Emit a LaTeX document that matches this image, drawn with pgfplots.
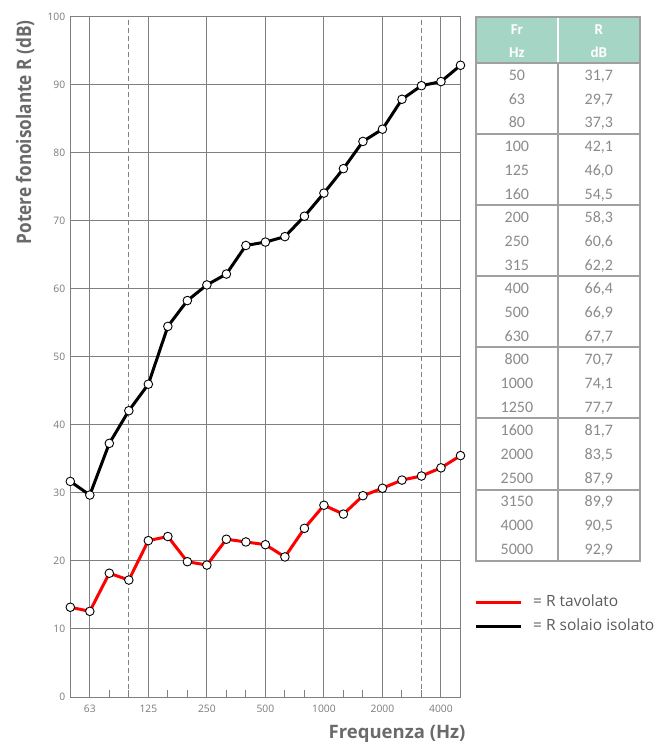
\documentclass[border=0pt]{standalone}
\usepackage{graphicx}
\usepackage{pgfplots}
\pgfplotsset{compat=1.18}
\usepackage{fontspec}
\setmainfont{Open Sans}
\newfontfamily\carlito{Carlito}
\definecolor{gridgray}{HTML}{808080}
\definecolor{labgray}{HTML}{6A6A6A}
\definecolor{tickgray}{HTML}{7A7A7A}
\definecolor{headteal}{HTML}{A5D6C5}
\definecolor{tabline}{HTML}{A0A0A0}
\definecolor{tabtext}{HTML}{8A8A8A}
\definecolor{legtext}{HTML}{5A5A5A}

\pgfplotstableread{
idx tavolato solaio
0  13.2 31.7
1  12.6 29.7
2  18.2 37.3
3  17.2 42.1
4  23.0 46.0
5  23.6 54.5
6  19.9 58.3
7  19.4 60.6
8  23.2 62.2
9  22.8 66.4
10 22.4 66.9
11 20.6 67.7
12 24.8 70.7
13 28.2 74.1
14 26.9 77.7
15 29.6 81.7
16 30.7 83.5
17 31.9 87.9
18 32.5 89.9
19 33.7 90.5
20 35.5 92.9
}\datatab

\begin{document}
\begin{tikzpicture}[x=1pt,y=1pt]
\useasboundingbox (0,0) rectangle (663,742);
\begin{axis}[
  at={(70.3pt,45pt)}, anchor=south west,
  width=390.2pt, height=680pt, scale only axis,
  xmin=0, xmax=20, ymin=0, ymax=100,
  clip=false,
  tick pos=left, tick align=inside,
  xtick={0,...,20},
  xticklabels={,63,,,125,,,250,,,500,,,1000,,,2000,,,4000,},
  extra x ticks={1,4,7,10,13,16,19},
  extra x tick labels={},
  extra x tick style={xmajorgrids=true},
  ytick={0,10,...,100},
  ymajorgrids=true,
  major grid style={draw=gridgray, line width=1pt},
  axis line style={draw=gridgray, line width=1pt},
  x tick style={draw=gridgray, line width=1pt},
  major tick length=6.7pt,
  y tick style={draw=none},
  /pgf/number format/assume math mode=true,
  ticklabel style={font=\fontsize{10.3}{12}\selectfont, text=tickgray},
  xticklabel style={anchor=base, yshift=-16pt},
  yticklabel style={anchor=east, xshift=-1.5pt},
]
\addplot[gridgray, line width=1pt, dash pattern=on 5pt off 3pt, forget plot] coordinates {(3,0) (3,100)};
\addplot[gridgray, line width=1pt, dash pattern=on 5pt off 3pt, forget plot] coordinates {(18,0) (18,100)};
\addplot[red, line width=3pt, mark=*, mark size=4.3pt, mark options={fill=white, draw=black, line width=0.9pt}] table[x=idx, y=tavolato] {\datatab};
\addplot[black, line width=3pt, mark=*, mark size=4.3pt, mark options={fill=white, draw=black, line width=0.9pt}] table[x=idx, y=solaio] {\datatab};
\end{axis}

% axis titles
\node[rotate=90, anchor=base, inner sep=0, text=labgray, font=\fontsize{20}{22}\selectfont\bfseries] at (31,609.5) {\scalebox{0.86}[1]{Potere fonoisolante R (dB)}};
\node[anchor=base east, inner sep=0, text=labgray, font=\fontsize{18.5}{20}\selectfont\bfseries] at (465.7,3.7) {Frequenza (Hz)};

% table
\fill[headteal] (476,678.7) rectangle (640,725.3);
\draw[white, line width=2pt] (557.7,678.7) -- (557.7,725.3);
\foreach \k in {0,1,...,6} {
  \draw[tabline, line width=2pt] (476,{678.7-3*\k*23.68}) -- (640,{678.7-3*\k*23.68});
}
\draw[tabline, line width=2pt] (557.7,181.4) -- (557.7,678.7);
\draw[tabline, line width=2pt] (476,181.4) rectangle (640,725.3);
\node[anchor=base, inner sep=0, text=white, font=\fontsize{15}{16}\selectfont\carlito\bfseries] at (516.9,707.3) {Fr};
\node[anchor=base, inner sep=0, text=white, font=\fontsize{15}{16}\selectfont\carlito\bfseries] at (516.9,684.6) {Hz};
\node[anchor=base, inner sep=0, text=white, font=\fontsize{15}{16}\selectfont\carlito\bfseries] at (598.9,707.3) {R};
\node[anchor=base, inner sep=0, text=white, font=\fontsize{15}{16}\selectfont\carlito\bfseries] at (598.9,684.6) {dB};
\foreach \f/\r [count=\i from 0] in {50/{31,7},63/{29,7},80/{37,3},100/{42,1},125/{46,0},160/{54,5},200/{58,3},250/{60,6},315/{62,2},400/{66,4},500/{66,9},630/{67,7},800/{70,7},1000/{74,1},1250/{77,7},1600/{81,7},2000/{83,5},2500/{87,9},3150/{89,9},4000/{90,5},5000/{92,9}} {
  \node[anchor=base, inner sep=0, text=tabtext, font=\fontsize{16}{18}\selectfont\carlito] at (516.9,{678.7-(\i+0.5)*23.68-5.5}) {\f};
  \node[anchor=base, inner sep=0, text=tabtext, font=\fontsize{16}{18}\selectfont\carlito] at (598.9,{678.7-(\i+0.5)*23.68-5.5}) {\r};
}

% legend
\draw[red, line width=3pt] (476,139) -- (521,139);
\draw[black, line width=3pt] (476,115) -- (521,115);
\node[anchor=base west, inner sep=0, text=legtext, font=\fontsize{15.5}{17}\selectfont] at (533,135.3) {= R tavolato};
\node[anchor=base west, inner sep=0, text=legtext, font=\fontsize{15.5}{17}\selectfont] at (533,111.3) {= R solaio isolato};
\end{tikzpicture}
\end{document}
